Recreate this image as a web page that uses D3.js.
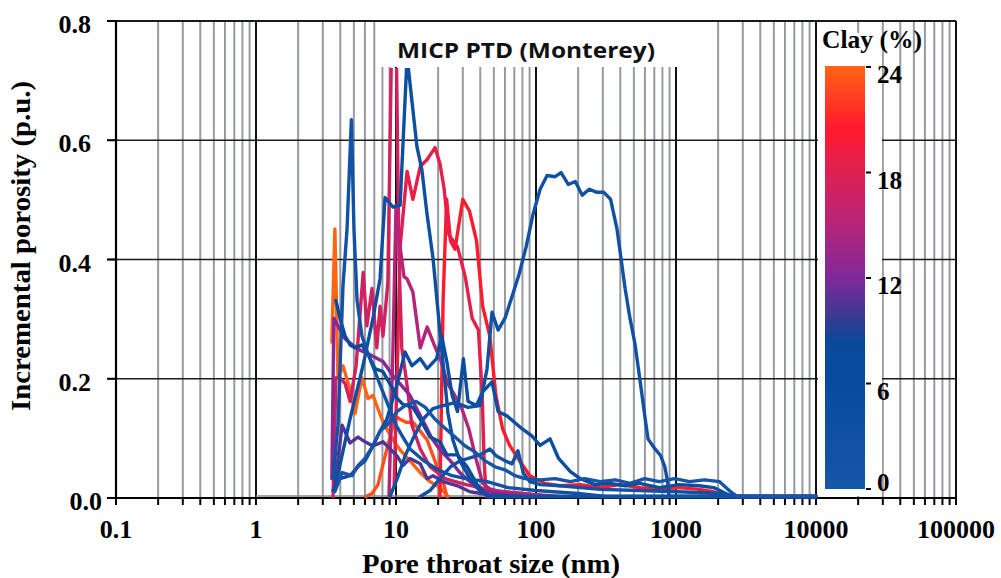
<!DOCTYPE html>
<html><head><meta charset="utf-8">
<script src="https://cdn.jsdelivr.net/npm/d3@7"></script>
<style>body{margin:0;background:#fff}svg{display:block}</style>
</head><body>
<svg id="chart" width="1001" height="578"></svg>
<script>
// ---------- data ----------
const xTickValues = [0.1, 1, 10, 100, 1000, 10000, 100000];
const xTickLabels = ["0.1", "1", "10", "100", "1000", "10000", "100000"];
const yTickValues = [0, 0.2, 0.4, 0.6, 0.8];
const yTickLabels = ["0.0", "0.2", "0.4", "0.6", "0.8"];
const clayTicks = [0, 6, 12, 18, 24];
const chartTitle = "MICP PTD (Monterey)";
const xTitle = "Pore throat size (nm)";
const yTitle = "Incremental porosity (p.u.)";
const colorbarTitle = "Clay (%)";

// [pore throat size (nm), incremental porosity (p.u.)]
const sampleA = [[9.06,0],[10.2,0.03],[11.6,0.068],[13.2,0.097],[15.6,0.13],[18.4,0.148],[21.7,0.153],[26.4,0.158],[32.7,0.15],[39.8,0.153],[44.7,0.215],[48.5,0.31],[53.6,0.28],[60.1,0.3],[67.5,0.337],[75.7,0.374],[85,0.42],[95.3,0.475],[107,0.517],[120,0.54],[137,0.538],[151,0.545],[170,0.525],[191,0.53],[214,0.507],[240,0.517],[270,0.512],[304,0.512],[341,0.5],[379,0.45],[405,0.4],[433,0.35],[469,0.3],[509,0.257],[550,0.2],[603,0.13],[631,0.097],[708,0.08],[776,0.069],[832,0.05],[871,0.025],[891,0],[10000,0]];
const sampleB = [[3.79,0.03],[4.69,0.13],[5.81,0.22],[6.85,0.3],[7.69,0.366],[8.35,0.503],[9.52,0.487],[10.7,0.49],[12,0.74],[14.1,0.589],[15.3,0.55],[16.6,0.478],[18.4,0.4],[20.6,0.277],[22,0.21],[23.5,0.14],[25.5,0.095],[28.6,0.06],[33.8,0.03],[39.8,0.01],[46.9,0],[10000,0]];
const sampleC = [[3.55,0.03],[3.85,0.12],[4.18,0.354],[4.47,0.45],[4.8,0.634],[5.01,0.45],[5.27,0.33],[5.71,0.27],[6.31,0.24],[7.08,0.21],[7.94,0.18],[8.91,0.15],[10,0.12],[11.2,0.1],[12.6,0.08],[15.8,0.06],[20,0.045],[25.1,0.035],[31.6,0.03],[44.7,0.025],[63.1,0.015],[100,0.01],[200,0.005],[316,0],[10000,0]];
const sampleD = [[3.55,0],[3.72,0.2],[3.98,0.2],[4.33,0.19],[4.7,0.16],[5.19,0.22],[5.83,0.377],[6.19,0.287],[6.74,0.35],[7.29,0.25],[7.69,0.32],[8.07,0.27],[8.75,0.36],[9.35,0.8],[10,0.8],[10.5,0.4],[11,0.25],[11.8,0.2],[13,0.12],[14.9,0.08],[17.5,0.05],[22.4,0.03],[31.6,0.02],[50,0.01],[79.4,0.005],[126,0]];
const sampleE = [[8.91,0],[9.52,0.25],[10,0.49],[10.7,0.42],[11.4,0.37],[12,0.366],[13.2,0.344],[14.9,0.25],[16.7,0.285],[18.6,0.257],[20.8,0.23],[23.4,0.19],[26.3,0.17],[29.5,0.148],[33.1,0.114],[37.2,0.064],[41.7,0.022],[46.8,0.013],[55.1,0.008],[76.4,0.005],[148,0]];
const sampleF = [[9.7,0.02],[10.3,0.25],[10.7,0.42],[12,0.547],[13.2,0.5],[14.9,0.555],[16.7,0.567],[19,0.587],[20.6,0.56],[22,0.52],[23.9,0.44],[25.1,0.433],[27.5,0.42],[31.2,0.37],[35,0.3],[38.8,0.28],[41.3,0.17],[42.6,0.06],[44.1,0],[107,0]];
const sampleG = [[20.6,0],[21.7,0.33],[23,0.5],[24.5,0.43],[26.4,0.416],[30,0.5],[33.5,0.48],[37.6,0.43],[41.6,0.32],[46.8,0.27],[51.7,0.17],[57.7,0.114],[64.8,0.086],[76.4,0.06],[90.4,0.035],[116,0.022],[148,0.018],[207,0.02],[288,0.015],[398,0.02],[550,0.015],[760,0.012],[1050,0.015],[1460,0.012],[1860,0.008],[2200,0],[10000,0]];
const sampleH1 = [[3.48,0.26],[3.66,0.45],[3.85,0.2],[4.18,0.22],[4.7,0.18],[5.1,0.14],[5.71,0.2],[6.31,0.165],[6.84,0.17],[7.94,0.13],[8.75,0.11],[9.86,0.09],[11,0.075],[12.6,0.06],[14.9,0.04],[17.5,0.025],[20.6,0.015],[23.5,0]];
const sampleH2 = [[6.12,0],[6.74,0.005],[7.44,0.02],[8.19,0.06],[9.06,0.1],[9.86,0.135],[10.7,0.13],[11.8,0.125],[13.2,0.125],[14.9,0.11],[16.7,0.095],[19.5,0.052],[21.7,0.025],[23.1,0]];
const sampleI = [[3.66,0.02],[4.12,0.12],[4.7,0.09],[5.35,0.1],[6.01,0.092],[6.84,0.085],[8.07,0.092],[10.2,0.068],[11.2,0.052],[12.6,0.064],[14.9,0.055],[16.7,0.03],[18.4,0.035],[21.7,0.025],[27.5,0.018],[33.8,0.008],[46.8,0.003],[76.4,0]];
const sampleJ = [[3.48,0.03],[3.6,0.3],[4.33,0.265],[5.35,0.248],[6.74,0.237],[8.07,0.227],[9.52,0.203],[11,0.186],[12.6,0.17],[14.4,0.143],[16.2,0.12],[18.1,0.097],[21.2,0.075],[24.5,0.06],[28.6,0.04],[33.8,0.025],[39.8,0.01],[55.1,0.005],[76.4,0]];
const sampleM = [[3.55,0.01],[3.98,0.03],[4.7,0.035],[5.35,0.05],[6.01,0.06],[6.84,0.085],[7.69,0.11],[8.6,0.13],[10.2,0.19],[11.6,0.243],[13,0.22],[14.9,0.232],[16.7,0.215],[19.5,0.232],[21.2,0.27],[23.1,0.226],[25.2,0.17],[27.5,0.143],[30.3,0.232],[32.7,0.16],[37.6,0.153],[41.6,0.176],[48.5,0.193],[53.6,0.143],[61.8,0.136],[79.4,0.114],[93.3,0.102],[107,0.086],[126,0.097],[145,0.064],[176,0.042],[207,0.03],[264,0.02],[338,0.022],[433,0.018],[550,0.022],[760,0.015],[1050,0.02],[1460,0.018],[1860,0.015],[2500,0],[10000,0]];
const sampleN = [[3.72,0.33],[3.98,0.3],[4.33,0.27],[4.7,0.255],[5.1,0.25],[5.71,0.255],[6.31,0.24],[7.08,0.215],[8.07,0.21],[9.52,0.18],[10.2,0.165],[11.2,0.155],[13.2,0.15],[14.9,0.13],[17.5,0.1],[20.6,0.092],[23.1,0.07],[27.5,0.07],[32.2,0.05],[38,0.02],[45,0],[10000,0]];
const sampleQ = [[3.66,0.008],[4.12,0.04],[4.85,0.035],[5.35,0.052],[6.01,0.064],[6.84,0.085],[7.69,0.11],[8.6,0.12],[10.2,0.143],[11.6,0.153],[13.9,0.16],[16.2,0.15],[19,0.13],[22.4,0.115],[26.4,0.1],[31.2,0.085],[36.6,0.075],[43.3,0.06],[51,0.05],[60,0.045],[70.8,0.035],[83.4,0.03],[107,0.028],[137,0.03],[176,0.025],[223,0.03],[288,0.025],[368,0.028],[470,0.022],[597,0.03],[760,0.025],[977,0.03],[1250,0.025],[1600,0.028],[2050,0.025],[2400,0.01],[2730,0],[10000,0]];
const sampleR = [[14.9,0],[17.5,0.01],[20.6,0.03],[24.5,0.05],[28.6,0.06],[33.8,0.065],[39.8,0.07],[46.8,0.08],[52.2,0.068],[60.1,0.06],[67.5,0.055],[74.3,0.077],[81,0.04],[90.4,0.025],[107,0.02],[148,0.018],[207,0.015],[288,0.012],[550,0.01],[1050,0.008],[2050,0.005],[2800,0]];

const samples = [sampleA, sampleB, sampleC, sampleD, sampleE, sampleF, sampleG, sampleH1, sampleH2, sampleI, sampleJ, sampleM, sampleN, sampleQ, sampleR];
const sampleClay = [3, 4, 2, 17, 15, 18.5, 20.5, 24, 23, 10.5, 12.5, 5, 6, 1, 2.5];

// colour ramp of the clay colour bar
const rampClay = [0, 6, 8.3, 9.8, 12, 15, 18, 20.5, 24];
const rampColor = ["#1756a8", "#084b9e", "#08499a", "#3b3a92", "#80299a", "#b6247a", "#df2052", "#ff1a2c", "#ff6416"];

// ---------- drawing ----------
const svg = d3.select("#chart");
const x = d3.scaleLog().domain([0.1, 100000]).range([116, 956]);
const y = d3.scaleLinear().domain([0, 0.8]).range([498, 21]);
const yData = d3.scaleLinear().domain([0, 0.8]).range([496.5, 21]);
const color = d3.scaleLinear().domain(rampClay).range(rampColor).interpolate(d3.interpolateRgb);

const serif = "'Liberation Serif','Times New Roman',serif";

// vertical log grid
const gridVals = [];
for (let e = -1; e <= 4; e++) for (let k = 1; k <= 9; k++) gridVals.push(k * Math.pow(10, e));
gridVals.push(100000);
const minorVals = gridVals.filter(v => Math.abs(Math.log10(v) - Math.round(Math.log10(v))) > 1e-9);
const majorVals = gridVals.filter(v => Math.abs(Math.log10(v) - Math.round(Math.log10(v))) <= 1e-9);

svg.append("g").selectAll("line").data(minorVals).join("line")
  .attr("x1", d => x(d)).attr("x2", d => x(d)).attr("y1", 21).attr("y2", 498)
  .attr("stroke", "#979b9f").attr("stroke-width", 2);
svg.append("g").selectAll("line").data(majorVals).join("line")
  .attr("x1", d => x(d)).attr("x2", d => x(d)).attr("y1", 21).attr("y2", 498)
  .attr("stroke", "#111").attr("stroke-width", 2);

// horizontal grid
svg.append("g").selectAll("line").data(yTickValues.filter(v => v > 0)).join("line")
  .attr("x1", 107).attr("x2", 956).attr("y1", d => y(d)).attr("y2", d => y(d))
  .attr("stroke", "#1a1a1a").attr("stroke-width", d => d === 0.8 ? 2 : 1.5);

// white boxes (title and colour bar areas)
svg.append("rect").attr("x", 379).attr("y", 22).attr("width", 321).attr("height", 45).attr("fill", "#fff");
svg.append("rect").attr("x", 818).attr("y", 33).attr("width", 64).attr("height", 463).attr("fill", "#fff");

// inner baseline
svg.append("line").attr("x1", x(1)).attr("x2", x(10000)).attr("y1", 496).attr("y2", 496)
  .attr("stroke", "#888").attr("stroke-width", 1.5);

// axes
const xAxisG = svg.append("g");
xAxisG.append("line").attr("x1", 116).attr("x2", 956).attr("y1", 498).attr("y2", 498).attr("stroke", "#000").attr("stroke-width", 2.2);
xAxisG.selectAll("line.tk").data(gridVals).join("line").attr("class", "tk")
  .attr("x1", d => x(d)).attr("x2", d => x(d)).attr("y1", 498).attr("y2", 505)
  .attr("stroke", "#000").attr("stroke-width", 2);
xAxisG.selectAll("text").data(xTickValues).join("text")
  .attr("x", d => x(d)).attr("y", 538).attr("text-anchor", "middle")
  .attr("font-family", serif).attr("font-weight", "bold").attr("font-size", 26)
  .text((d, i) => xTickLabels[i]);

const yAxisG = svg.append("g");
yAxisG.append("line").attr("x1", 116).attr("x2", 116).attr("y1", 21).attr("y2", 498).attr("stroke", "#000").attr("stroke-width", 2.2);
yAxisG.selectAll("line.tk").data(yTickValues).join("line").attr("class", "tk")
  .attr("x1", 107).attr("x2", 116).attr("y1", d => y(d)).attr("y2", d => y(d))
  .attr("stroke", "#000").attr("stroke-width", 2);
yAxisG.selectAll("text").data(yTickValues).join("text")
  .attr("x", d => d === 0 ? 102 : 91).attr("y", d => y(d) + 12).attr("text-anchor", "end")
  .attr("font-family", serif).attr("font-weight", "bold").attr("font-size", 26)
  .text((d, i) => yTickLabels[i]);

// axis titles
svg.append("text").attr("x", 491).attr("y", 573).attr("text-anchor", "middle")
  .attr("font-family", serif).attr("font-weight", "bold").attr("font-size", 27)
  .attr("textLength", 258).attr("lengthAdjust", "spacingAndGlyphs").text(xTitle);
svg.append("text").attr("transform", "translate(30,246) rotate(-90)").attr("text-anchor", "middle")
  .attr("font-family", serif).attr("font-weight", "bold").attr("font-size", 28)
  .attr("textLength", 330).attr("lengthAdjust", "spacingAndGlyphs").text(yTitle);

// data lines
const clip = svg.append("clipPath").attr("id", "plotClip");
clip.append("rect").attr("x", x(1)).attr("y", 68).attr("width", x(10000) - x(1) + 2).attr("height", 432);
const line = d3.line().x(d => x(d[0])).y(d => yData(d[1]));
const order = d3.range(samples.length).sort((a, b) => sampleClay[b] - sampleClay[a]);
svg.append("g").attr("clip-path", "url(#plotClip)")
  .selectAll("path").data(order).join("path")
  .attr("d", i => line(samples[i]))
  .attr("fill", "none").attr("stroke", i => color(sampleClay[i]))
  .attr("stroke-width", 3.4).attr("stroke-linejoin", "round").attr("stroke-linecap", "round");

// chart title
svg.append("text").attr("x", 397).attr("y", 58)
  .attr("font-family", "'Open Sans','Liberation Sans',sans-serif").attr("font-weight", 700).attr("font-size", 22)
  .attr("textLength", 258).attr("lengthAdjust", "spacingAndGlyphs").attr("fill", "#111").text(chartTitle);

// colour bar
const defs = svg.append("defs");
const grad = defs.append("linearGradient").attr("id", "clayGrad").attr("x1", 0).attr("y1", 1).attr("x2", 0).attr("y2", 0);
grad.selectAll("stop").data(rampClay).join("stop")
  .attr("offset", d => d / 24).attr("stop-color", d => color(d));
const cb = d3.scaleLinear().domain([0, 24]).range([489, 67]);
svg.append("rect").attr("x", 825).attr("y", cb(24) - 1).attr("width", 40).attr("height", cb(0) - cb(24) + 1)
  .attr("fill", "url(#clayGrad)");
svg.append("g").selectAll("line").data(clayTicks).join("line")
  .attr("x1", 866).attr("x2", 871).attr("y1", d => cb(d)).attr("y2", d => cb(d))
  .attr("stroke", "#000").attr("stroke-width", 2);
svg.append("g").selectAll("text").data(clayTicks).join("text")
  .attr("x", 877).attr("y", d => cb(d) + (d === 0 ? 2 : 16))
  .attr("font-family", serif).attr("font-weight", "bold").attr("font-size", 25)
  .text(d => d);
svg.append("text").attr("x", 822).attr("y", 48)
  .attr("font-family", serif).attr("font-weight", "bold").attr("font-size", 25)
  .attr("textLength", 100).attr("lengthAdjust", "spacingAndGlyphs").text(colorbarTitle);
</script>
</body></html>
